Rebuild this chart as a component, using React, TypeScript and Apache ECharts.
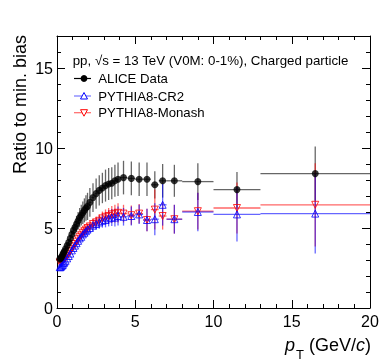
import React, { useEffect, useRef } from 'react';
import * as echarts from 'echarts';

const FONT = '"Liberation Sans", Arial, Helvetica, sans-serif';

// pT bin centres (GeV/c) and half bin widths
const ptCenters = [
  0.175, 0.225, 0.275, 0.325, 0.375, 0.425, 0.475,
  0.55, 0.65, 0.75, 0.85, 0.95,
  1.05, 1.15, 1.25, 1.35, 1.45, 1.55, 1.65, 1.75, 1.85, 1.95,
  2.1, 2.3, 2.5, 2.7, 2.9, 3.1, 3.3, 3.5, 3.7, 3.9,
  4.25, 4.75, 5.25, 5.75, 6.25, 6.75,
  7.5, 9, 11.5, 16.5,
];
const ptHalfWidths = [
  0.025, 0.025, 0.025, 0.025, 0.025, 0.025, 0.025,
  0.05, 0.05, 0.05, 0.05, 0.05,
  0.05, 0.05, 0.05, 0.05, 0.05, 0.05, 0.05, 0.05, 0.05, 0.05,
  0.1, 0.1, 0.1, 0.1, 0.1, 0.1, 0.1, 0.1, 0.1, 0.1,
  0.25, 0.25, 0.25, 0.25, 0.25, 0.25,
  0.5, 1, 1.5, 3.5,
];

const aliceValues = [
  3.05, 3.1, 3.15, 3.25, 3.35, 3.45, 3.55,
  3.7, 3.9, 4.1, 4.35, 4.6,
  4.85, 5.05, 5.25, 5.45, 5.65, 5.8, 5.95, 6.1, 6.25, 6.35,
  6.6, 6.9, 7.15, 7.35, 7.5, 7.65, 7.75, 7.8, 7.95, 8.05,
  8.15, 8.1, 8.05, 8.05, 7.7, 7.95,
  7.95, 7.9, 7.4, 8.4,
];
const aliceErrors = [
  0.1, 0.1, 0.1, 0.12, 0.13, 0.14, 0.15,
  0.15, 0.18, 0.2, 0.22, 0.25,
  0.3, 0.4, 0.5, 0.55, 0.6, 0.65, 0.7, 0.75, 0.8, 0.85,
  0.9, 0.9, 0.95, 0.95, 0.95, 1.0, 1.0, 1.0, 1.0, 1.05,
  1.05, 1.05, 1.05, 1.05, 0.85, 1.05,
  1.0, 1.15, 1.1, 1.7,
];

const cr2Values = [
  2.55, 2.55, 2.6, 2.65, 2.7, 2.8, 2.85,
  2.95, 3.1, 3.25, 3.4, 3.6,
  3.75, 3.9, 4.05, 4.2, 4.35, 4.45, 4.6, 4.7, 4.8, 4.9,
  5.0, 5.15, 5.25, 5.35, 5.45, 5.5, 5.6, 5.65, 5.65, 5.75,
  5.7, 5.75, 5.85, 5.5, 5.55, 6.45,
  5.55, 6.0, 5.85, 5.9,
];
const cr2Errors = [
  0.05, 0.05, 0.05, 0.05, 0.05, 0.05, 0.05,
  0.08, 0.08, 0.08, 0.08, 0.08,
  0.1, 0.12, 0.14, 0.16, 0.18, 0.2, 0.22, 0.24, 0.26, 0.28,
  0.3, 0.33, 0.36, 0.4, 0.43, 0.46, 0.5, 0.53, 0.56, 0.6,
  0.55, 0.6, 0.6, 0.7, 1.0, 1.3,
  0.9, 1.2, 1.7, 2.5,
];

const monashValues = [
  2.85, 2.85, 2.9, 2.95, 3.0, 3.05, 3.1,
  3.15, 3.25, 3.4, 3.55, 3.7,
  3.85, 4.0, 4.15, 4.3, 4.45, 4.55, 4.7, 4.8, 4.9, 5.0,
  5.1, 5.25, 5.35, 5.45, 5.6, 5.7, 5.75, 5.85, 5.9, 5.95,
  5.9, 5.8, 5.9, 5.5, 6.15, 5.75,
  5.55, 6.05, 6.25, 6.45,
];
const monashErrors = [
  0.05, 0.05, 0.05, 0.05, 0.05, 0.05, 0.05,
  0.08, 0.08, 0.08, 0.08, 0.08,
  0.1, 0.12, 0.14, 0.16, 0.18, 0.2, 0.22, 0.24, 0.26, 0.28,
  0.3, 0.33, 0.36, 0.4, 0.43, 0.46, 0.5, 0.53, 0.56, 0.6,
  0.55, 0.6, 0.6, 0.7, 1.25, 0.85,
  0.9, 1.15, 1.6, 2.6,
];

const seriesNames = ['ALICE Data', 'PYTHIA8-CR2', 'PYTHIA8-Monash'];
const headerText = 'pp, √s = 13 TeV (V0M: 0-1%), Charged particle';
const yTitle = 'Ratio to min. bias';

const X_MIN = 0, X_MAX = 20, X_INTERVAL = 5;
const Y_MIN = 0, Y_MAX = 17, Y_INTERVAL = 5;

function rows(values: number[], errors: number[]) {
  return ptCenters.map((x, i) => [x, values[i], ptHalfWidths[i], errors[i]]);
}

function errorSeries(name: string, values: number[], errors: number[], color: string) {
  return {
    type: 'custom',
    name: name + ' errors',
    xAxisIndex: 0,
    yAxisIndex: 0,
    data: rows(values, errors),
    encode: { x: 0, y: 1 },
    clip: true,
    silent: true,
    renderItem: (_params: any, api: any) => {
      const x = api.value(0), y = api.value(1), ex = api.value(2), ey = api.value(3);
      const l = api.coord([x - ex, y]);
      const r = api.coord([x + ex, y]);
      const t = api.coord([x, y + ey]);
      const b = api.coord([x, y - ey]);
      return {
        type: 'group',
        children: [
          { type: 'line', shape: { x1: l[0], y1: l[1], x2: r[0], y2: r[1] }, style: { stroke: color, lineWidth: 1.3 } },
          { type: 'line', shape: { x1: t[0], y1: t[1], x2: b[0], y2: b[1] }, style: { stroke: color, lineWidth: 1.3 } },
        ],
      };
    },
  };
}

function App() {
  const ref = useRef<HTMLDivElement>(null);

  useEffect(() => {
    if (!ref.current) return;
    const chart = echarts.init(ref.current, undefined, { renderer: 'svg' });

    const axisLine = { show: true, onZero: false, lineStyle: { color: '#000', width: 1 } };
    const xBase = {
      type: 'value', min: X_MIN, max: X_MAX, interval: X_INTERVAL,
      axisLine,
      axisTick: { show: true, inside: true, length: 8, lineStyle: { color: '#000', width: 1 } },
      minorTick: { show: true, splitNumber: 5, length: 4, lineStyle: { color: '#000', width: 1 } },
      splitLine: { show: false },
      minorSplitLine: { show: false },
    };
    const yMajor = {
      type: 'value', min: Y_MIN, max: Y_MAX, interval: Y_INTERVAL,
      axisLine,
      axisTick: { show: true, inside: true, length: 8, lineStyle: { color: '#000', width: 1 } },
      splitLine: { show: false },
    };
    const yMinor = {
      type: 'value', min: Y_MIN, max: Y_MAX, interval: 1,
      axisLine: { show: false, onZero: false },
      axisTick: { show: true, inside: true, length: 4, lineStyle: { color: '#000', width: 1 } },
      axisLabel: { show: false },
      splitLine: { show: false },
    };

    const legendY = [78.5, 96, 112.7];
    const legendColors = ['#000', 'rgba(0,0,255,0.55)', 'rgba(255,0,0,0.6)'];
    const legendGraphics: any[] = [];
    seriesNames.forEach((name, i) => {
      const y = legendY[i];
      legendGraphics.push({ type: 'line', shape: { x1: 74, y1: y, x2: 91, y2: y }, style: { stroke: legendColors[i], lineWidth: 1.2 } });
      if (i === 0) {
        legendGraphics.push({ type: 'circle', shape: { cx: 84, cy: y, r: 3.4 }, style: { fill: '#000' } });
      } else if (i === 1) {
        legendGraphics.push({ type: 'polygon', shape: { points: [[80.5, y + 3], [87.5, y + 3], [84, y - 3.5]] }, style: { fill: '#fff', stroke: '#0000ff', lineWidth: 1 } });
      } else {
        legendGraphics.push({ type: 'polygon', shape: { points: [[80.5, y - 3], [87.5, y - 3], [84, y + 3.5]] }, style: { fill: '#fff', stroke: '#ff0000', lineWidth: 1 } });
      }
      legendGraphics.push({ type: 'text', x: 98.3, y, style: { text: name, fontSize: 13.2, fontFamily: FONT, fill: '#000', align: 'left', verticalAlign: 'middle' } });
    });

    const option: any = {
      animation: false,
      textStyle: { fontFamily: FONT },
      grid: { left: 57, top: 36, width: 313, height: 272, containLabel: false },
      xAxis: [
        { ...xBase, position: 'bottom', axisLabel: { show: true, fontSize: 16, color: '#000', margin: 5, fontFamily: FONT } },
        { ...xBase, position: 'top', axisLabel: { show: false } },
      ],
      yAxis: [
        { ...yMajor, position: 'left', axisLabel: { show: true, fontSize: 16, color: '#000', margin: 4, fontFamily: FONT, formatter: (v: number) => (v % Y_INTERVAL === 0 ? String(v) : '') } },
        { ...yMinor, position: 'left' },
        { ...yMajor, position: 'right', axisLabel: { show: false } },
        { ...yMinor, position: 'right' },
      ],
      series: [
        errorSeries(seriesNames[0], aliceValues, aliceErrors, 'rgba(0,0,0,0.6)'),
        errorSeries(seriesNames[2], monashValues, monashErrors, 'rgba(255,0,0,0.6)'),
        errorSeries(seriesNames[1], cr2Values, cr2Errors, 'rgba(0,0,255,0.6)'),
        {
          type: 'scatter', name: seriesNames[2], xAxisIndex: 0, yAxisIndex: 0,
          data: ptCenters.map((x, i) => [x, monashValues[i]]),
          symbol: 'triangle', symbolRotate: 180, symbolSize: 7,
          itemStyle: { color: 'rgba(255,255,255,0)', borderColor: '#ff0000', borderWidth: 1 },
          z: 3,
        },
        {
          type: 'scatter', name: seriesNames[1], xAxisIndex: 0, yAxisIndex: 0,
          data: ptCenters.map((x, i) => [x, cr2Values[i]]),
          symbol: 'triangle', symbolSize: 7,
          itemStyle: { color: 'rgba(255,255,255,0)', borderColor: '#0000ff', borderWidth: 1 },
          z: 3,
        },
        {
          type: 'scatter', name: seriesNames[0], xAxisIndex: 0, yAxisIndex: 0,
          data: ptCenters.map((x, i) => [x, aliceValues[i]]),
          symbol: 'circle', symbolSize: 7,
          itemStyle: { color: '#000' },
          z: 4,
        },
      ],
      graphic: [
        { type: 'text', x: 72.7, y: 60, style: { text: headerText, fontSize: 13.3, fontFamily: FONT, fill: '#000', align: 'left', verticalAlign: 'middle' } },
        ...legendGraphics,
        { type: 'text', x: 20, y: 35, rotation: Math.PI / 2, style: { text: yTitle, fontSize: 18, fontFamily: FONT, fill: '#000', align: 'right', verticalAlign: 'middle' } },
        {
          type: 'text', x: 371, y: 336,
          style: {
            text: '{i|p}{s|T}{n| (GeV/}{i|c}{n|)}',
            align: 'right', verticalAlign: 'top', fill: '#000',
            rich: {
              i: { fontSize: 18, fontStyle: 'italic', fontFamily: FONT, lineHeight: 20, verticalAlign: 'top', fill: '#000' },
              n: { fontSize: 18, fontFamily: FONT, lineHeight: 20, verticalAlign: 'top', fill: '#000' },
              s: { fontSize: 13, fontFamily: FONT, lineHeight: 13, padding: [12, 0, 0, 1], verticalAlign: 'top', fill: '#000' },
            },
          },
        },
      ],
    };

    chart.setOption(option);
    return () => chart.dispose();
  }, []);

  return <div ref={ref} style={{ position: 'fixed', left: 0, top: 0, width: 382, height: 363 }} />;
}

export default App;
